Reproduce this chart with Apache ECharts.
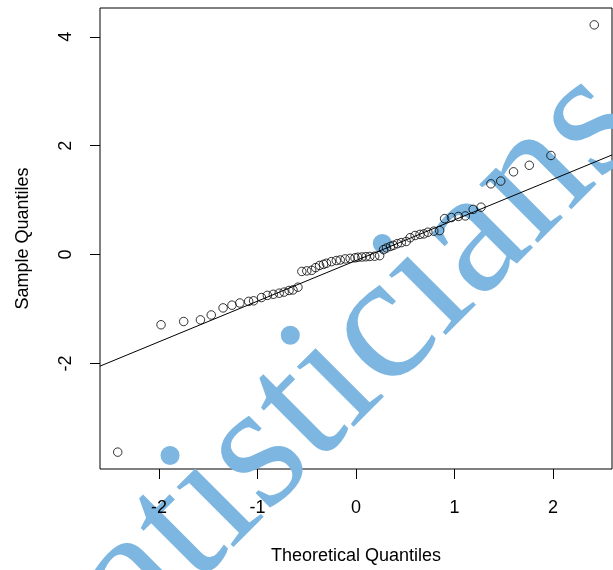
<!DOCTYPE html>
<html>
<head>
<meta charset="utf-8">
<script src="https://cdn.jsdelivr.net/npm/echarts@6/dist/echarts.min.js"></script>
<style>
  html, body { margin: 0; padding: 0; background: #fff; }
  #chart { width: 613px; height: 570px; }
</style>
</head>
<body>
<div id="chart"></div>
<script>
// theoretical quantiles (x) and sample quantiles (y)
const theoretical = [-2.42, -1.98, -1.75, -1.58, -1.47, -1.35, -1.26, -1.18, -1.09, -1.04,
  -0.96, -0.90, -0.84, -0.78, -0.73, -0.68, -0.64, -0.59, -0.55, -0.50,
  -0.45, -0.41, -0.37, -0.33, -0.30, -0.25, -0.20, -0.16, -0.11, -0.06,
  -0.01, 0.02, 0.06, 0.10, 0.14, 0.19, 0.24, 0.28, 0.31, 0.35,
  0.38, 0.42, 0.46, 0.51, 0.55, 0.60, 0.65, 0.69, 0.73, 0.79,
  0.85, 0.90, 0.97, 1.04, 1.11, 1.19, 1.27, 1.37, 1.47, 1.60,
  1.76, 1.98, 2.42];
const sample = [-3.63, -1.29, -1.23, -1.20, -1.11, -0.98, -0.93, -0.89, -0.86, -0.85,
  -0.79, -0.75, -0.73, -0.71, -0.69, -0.66, -0.65, -0.60, -0.31, -0.30,
  -0.29, -0.24, -0.20, -0.18, -0.16, -0.13, -0.11, -0.10, -0.08, -0.07,
  -0.06, -0.05, -0.045, -0.04, -0.035, -0.03, -0.02, 0.09, 0.12, 0.15,
  0.17, 0.20, 0.22, 0.24, 0.31, 0.35, 0.37, 0.38, 0.41, 0.43,
  0.44, 0.66, 0.68, 0.70, 0.71, 0.83, 0.87, 1.30, 1.35, 1.52,
  1.64, 1.82, 4.22];

// reference line end points
const lineX = [-2.6, 2.6];
const lineY = [-2.05, 1.83];

const xTicks = [-2, -1, 0, 1, 2];
const yTicks = [-2, 0, 2, 4];

const chart = echarts.init(document.getElementById('chart'));
const font = '"Liberation Sans", Arial, sans-serif';

const option = {
  animation: false,
  grid: {
    left: 100, right: 1, top: 8, bottom: 100,
    show: true, borderColor: '#000', borderWidth: 1,
    backgroundColor: 'transparent'
  },
  graphic: [{
    type: 'text',
    z: 1,
    x: 63, y: 778,
    rotation: Math.PI / 4,
    style: {
      text: 'Statisticians',
      font: '180px "Liberation Serif", "Times New Roman", serif',
      fill: '#7db6e0',
      textAlign: 'left',
      textVerticalAlign: 'bottom'
    }
  }],
  xAxis: {
    type: 'value', min: -2.6, max: 2.6, z: 5,
    name: 'Theoretical Quantiles', nameLocation: 'middle', nameGap: 78,
    nameTextStyle: { color: '#000', fontSize: 18, fontFamily: font },
    axisLine: { show: false, onZero: false },
    splitLine: { show: false },
    axisTick: { show: true, customValues: xTicks, length: 10, lineStyle: { color: '#000' } },
    axisLabel: { customValues: xTicks, margin: 30, color: '#000', fontSize: 18, fontFamily: font }
  },
  yAxis: {
    type: 'value', min: -3.94, max: 4.53, z: 5,
    name: 'Sample Quantiles', nameLocation: 'middle', nameGap: 68,
    nameTextStyle: { color: '#000', fontSize: 18, fontFamily: font },
    axisLine: { show: false, onZero: false },
    splitLine: { show: false },
    axisTick: { show: true, customValues: yTicks, length: 10, lineStyle: { color: '#000' } },
    axisLabel: { customValues: yTicks, rotate: 90, margin: 25, color: '#000', fontSize: 18, fontFamily: font }
  },
  series: [
    {
      type: 'scatter',
      z: 3,
      symbol: 'circle',
      symbolSize: 8.5,
      itemStyle: { color: 'transparent', borderColor: '#000', borderWidth: 1 },
      data: theoretical.map((x, i) => [x, sample[i]])
    },
    {
      type: 'line',
      z: 3,
      symbol: 'none',
      lineStyle: { color: '#000', width: 1 },
      data: lineX.map((x, i) => [x, lineY[i]])
    }
  ]
};
chart.setOption(option);
</script>
</body>
</html>
